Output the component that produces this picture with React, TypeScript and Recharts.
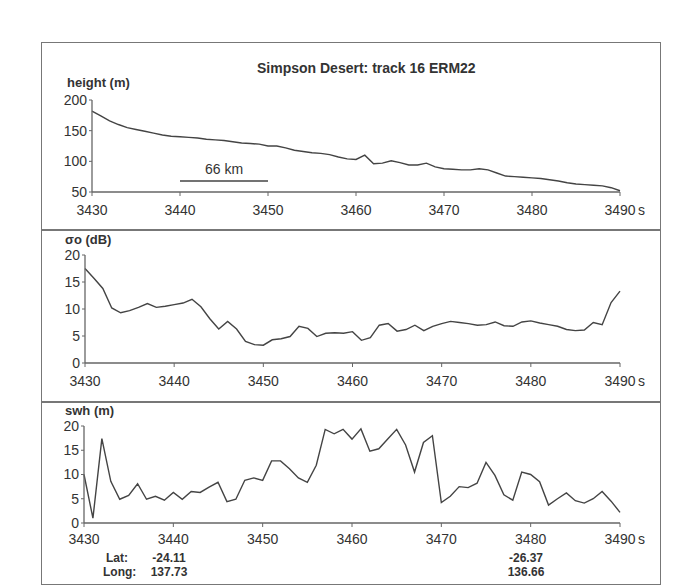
import { LineChart, Line, XAxis, YAxis, ReferenceLine } from "recharts";

// time along track (s)
const seconds = [
  3430, 3431, 3432, 3433, 3434, 3435, 3436, 3437, 3438, 3439,
  3440, 3441, 3442, 3443, 3444, 3445, 3446, 3447, 3448, 3449,
  3450, 3451, 3452, 3453, 3454, 3455, 3456, 3457, 3458, 3459,
  3460, 3461, 3462, 3463, 3464, 3465, 3466, 3467, 3468, 3469,
  3470, 3471, 3472, 3473, 3474, 3475, 3476, 3477, 3478, 3479,
  3480, 3481, 3482, 3483, 3484, 3485, 3486, 3487, 3488, 3489,
  3490,
];

const heightM = [
  182, 174, 166, 160, 155, 152, 149, 146, 143, 141,
  140, 139, 138, 136, 135, 134, 132, 130, 129, 128,
  125, 125, 122, 118, 116, 114, 113, 111, 107, 104,
  103, 110, 96, 97, 101, 98, 94, 94, 97, 91,
  88, 87, 86, 86, 88, 86, 81, 76, 75, 74,
  73, 72, 70, 68, 65, 63, 62, 61, 60, 57,
  52,
];

const sigma0dB = [
  17.5, 15.7, 13.8, 10.2, 9.3, 9.7, 10.3, 11.0, 10.3, 10.5,
  10.8, 11.1, 11.8, 10.4, 8.2, 6.3, 7.7, 6.3, 4.0, 3.4,
  3.3, 4.3, 4.5, 4.9, 6.8, 6.4, 4.9, 5.5, 5.6, 5.5,
  5.8, 4.2, 4.7, 7.0, 7.3, 5.9, 6.2, 7.0, 6.0, 6.8,
  7.3, 7.7, 7.5, 7.3, 7.0, 7.1, 7.6, 6.9, 6.8, 7.6,
  7.8, 7.4, 7.1, 6.8, 6.2, 6.0, 6.1, 7.5, 7.1, 11.2,
  13.3,
];

const swhM = [
  10.0, 1.0, 17.4, 8.6, 4.9, 5.7, 8.1, 4.9, 5.5, 4.7,
  6.3, 4.9, 6.5, 6.3, 7.4, 8.4, 4.4, 4.9, 8.8, 9.3,
  8.8, 12.8, 12.8, 11.2, 9.3, 8.4, 11.9, 19.3, 18.4, 19.3,
  17.3, 19.4, 14.8, 15.3, 17.3, 19.3, 16.1, 10.5, 16.6, 18.0,
  4.2, 5.5, 7.5, 7.3, 8.2, 12.5, 9.8, 5.8, 4.7, 10.5,
  10.0, 8.5, 3.7, 5.0, 6.2, 4.6, 4.1, 5.0, 6.5, 4.5,
  2.2,
];

const xTicks = [3430, 3440, 3450, 3460, 3470, 3480, 3490];
const heightTicks = [50, 100, 150, 200];
const sigmaTicks = [0, 5, 10, 15, 20];
const swhTicks = [0, 5, 10, 15, 20];

const scaleBarSeconds = [3440, 3450];
const scaleBarHeight = 68;

const latLabels = ["-24.11", "-26.37"];
const longLabels = ["137.73", "136.66"];

const LINE = "#444";
const AXIS = "#666";
const TEXT = "#333";

const rows = (values: number[]) => seconds.map((t, i) => ({ t, v: values[i] }));

const TimeTick = ({ x, y, payload, dy }: any) => (
  <g>
    <text x={x} y={y} dy={dy} textAnchor="middle" fontSize={14} fill={TEXT}>
      {payload.value}
    </text>
    {payload.value === 3490 && (
      <text x={x + 18} y={y} dy={dy} fontSize={14} fill={TEXT}>
        s
      </text>
    )}
  </g>
);

function Panel({ data, top, height, margin, yDomain, yTicks, labelDy, children }: any) {
  return (
    <div style={{ position: "absolute", left: 0, top, width: 687, height }}>
      <LineChart width={687} height={height} data={data} margin={margin}>
        <XAxis
          dataKey="t"
          type="number"
          domain={[3430, 3490]}
          ticks={xTicks}
          interval={0}
          height={30}
          tickSize={4}
          tickMargin={2}
          axisLine={{ stroke: AXIS, strokeWidth: 1.3 }}
          tickLine={{ stroke: AXIS }}
          tick={(p: any) => <TimeTick {...p} dy={labelDy} />}
        />
        <YAxis
          type="number"
          domain={yDomain}
          ticks={yTicks}
          interval={0}
          width={50}
          tickSize={3}
          tickMargin={2}
          axisLine={{ stroke: AXIS, strokeWidth: 1.3 }}
          tickLine={{ stroke: AXIS }}
          tick={{ fontSize: 14, fill: TEXT }}
        />
        <Line
          dataKey="v"
          type="linear"
          stroke={LINE}
          strokeWidth={1.4}
          dot={false}
          isAnimationActive={false}
        />
        {children}
      </LineChart>
    </div>
  );
}

const bold: any = {
  position: "absolute",
  fontSize: 14,
  fontWeight: 700,
  color: TEXT,
  lineHeight: "16px",
  whiteSpace: "nowrap",
};

const axisName: any = { ...bold, fontSize: 13, lineHeight: "14px" };
const small: any = { ...bold, fontSize: 12, lineHeight: "14px" };

export default function App() {
  return (
    <div
      style={{
        position: "absolute",
        left: 0,
        top: 0,
        width: 687,
        height: 586,
        background: "#fff",
        fontFamily: '"Liberation Sans", Arial, sans-serif',
      }}
    >
      <div
        style={{
          position: "absolute",
          left: 41,
          top: 42,
          width: 620,
          height: 543,
          border: "1.5px solid #777",
          boxSizing: "border-box",
        }}
      />
      <div style={{ position: "absolute", left: 41, top: 229, width: 620, height: 1.5, background: "#777" }} />
      <div style={{ position: "absolute", left: 41, top: 401, width: 620, height: 1.5, background: "#777" }} />

      <Panel
        data={rows(heightM)}
        top={0}
        height={230}
        margin={{ top: 100, right: 67, bottom: 8, left: 42 }}
        yDomain={[50, 200]}
        yTicks={heightTicks}
        labelDy={17}
      >
        <ReferenceLine
          segment={[
            { x: scaleBarSeconds[0], y: scaleBarHeight },
            { x: scaleBarSeconds[1], y: scaleBarHeight },
          ]}
          stroke={LINE}
          strokeWidth={1.4}
          label={{ value: "66 km", position: "top", fontSize: 14, fill: TEXT, offset: 7 }}
        />
      </Panel>
      <Panel
        data={rows(sigma0dB)}
        top={230}
        height={171}
        margin={{ top: 25, right: 67, bottom: 8, left: 35 }}
        yDomain={[0, 20]}
        yTicks={sigmaTicks}
        labelDy={17}
      />
      <Panel
        data={rows(swhM)}
        top={401}
        height={183}
        margin={{ top: 25, right: 67, bottom: 31, left: 34 }}
        yDomain={[0, 20]}
        yTicks={swhTicks}
        labelDy={15}
      />

      <div style={{ ...bold, left: 257, top: 60, width: 200, textAlign: "center" }}>
        Simpson Desert: track 16 ERM22
      </div>
      <div style={{ ...axisName, left: 67, top: 76 }}>height (m)</div>
      <div style={{ ...axisName, left: 65, top: 233 }}>σo (dB)</div>
      <div style={{ ...axisName, left: 65, top: 404 }}>swh (m)</div>

      <div style={{ ...small, left: 106, top: 551 }}>Lat:</div>
      <div style={{ ...small, left: 103, top: 565 }}>Long:</div>
      <div style={{ ...small, left: 139, top: 551, width: 60, textAlign: "center" }}>{latLabels[0]}</div>
      <div style={{ ...small, left: 139, top: 565, width: 60, textAlign: "center" }}>{longLabels[0]}</div>
      <div style={{ ...small, left: 496, top: 551, width: 60, textAlign: "center" }}>{latLabels[1]}</div>
      <div style={{ ...small, left: 496, top: 565, width: 60, textAlign: "center" }}>{longLabels[1]}</div>
    </div>
  );
}
